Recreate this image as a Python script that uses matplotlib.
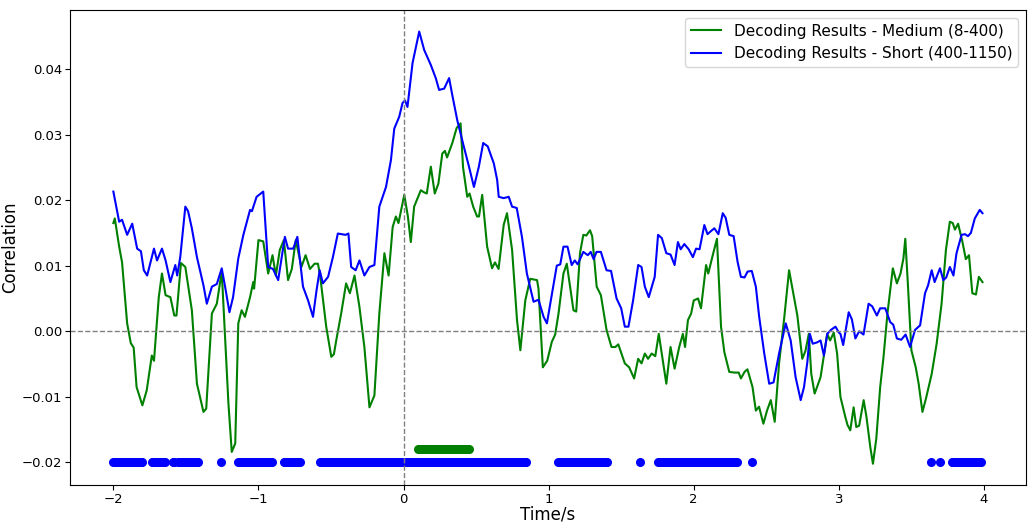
import numpy as np
import matplotlib.pyplot as plt

# decoding correlation over time, medium band (8-400)
t_medium = [-2.00, -1.99, -1.96, -1.94, -1.905, -1.88, -1.86, -1.84, -1.80, -1.77,
            -1.735, -1.72, -1.687, -1.665, -1.64, -1.607, -1.58, -1.565, -1.534, -1.504,
            -1.459, -1.424, -1.379, -1.36, -1.321, -1.287, -1.253, -1.23, -1.207, -1.184,
            -1.16, -1.139, -1.116, -1.093, -1.058, -1.036, -1.03, -1.0, -0.967, -0.933,
            -0.903, -0.88, -0.853, -0.825, -0.796, -0.77, -0.743, -0.704, -0.675, -0.645,
            -0.613, -0.59, -0.575, -0.533, -0.498, -0.48, -0.464, -0.43, -0.396, -0.37,
            -0.338, -0.304, -0.27, -0.235, -0.201, -0.167, -0.132, -0.103, -0.075, -0.053,
            -0.035, 0.005, 0.03, 0.05, 0.073, 0.119, 0.14, 0.16, 0.188, 0.215,
            0.24, 0.267, 0.285, 0.30, 0.336, 0.366, 0.393, 0.41, 0.439, 0.455,
            0.48, 0.507, 0.52, 0.542, 0.576, 0.61, 0.63, 0.655, 0.69, 0.713,
            0.748, 0.782, 0.805, 0.839, 0.873, 0.92, 0.93, 0.96, 0.99, 1.022,
            1.045, 1.068, 1.102, 1.125, 1.15, 1.171, 1.19, 1.216, 1.239, 1.26,
            1.285, 1.30, 1.331, 1.36, 1.399, 1.433, 1.46, 1.48, 1.525, 1.555,
            1.589, 1.617, 1.64, 1.663, 1.685, 1.71, 1.735, 1.759, 1.785, 1.811,
            1.84, 1.868, 1.90, 1.925, 1.94, 1.96, 1.982, 2.0, 2.03, 2.05,
            2.085, 2.10, 2.131, 2.16, 2.188, 2.211, 2.245, 2.28, 2.31, 2.325,
            2.35, 2.37, 2.405, 2.428, 2.45, 2.48, 2.505, 2.531, 2.558, 2.588,
            2.622, 2.657, 2.68, 2.714, 2.748, 2.77, 2.793, 2.81, 2.833, 2.85,
            2.874, 2.92, 2.94, 2.965, 2.988, 3.011, 3.045, 3.06, 3.079, 3.102,
            3.12, 3.14, 3.171, 3.19, 3.217, 3.235, 3.258, 3.285, 3.308, 3.335,
            3.372, 3.40, 3.425, 3.445, 3.458, 3.475, 3.50, 3.53, 3.55, 3.576,
            3.60, 3.64, 3.674, 3.708, 3.738, 3.765, 3.785, 3.80, 3.822, 3.852,
            3.875, 3.897, 3.92, 3.945, 3.965, 3.99]
r_medium = [0.0165, 0.0172, 0.0129, 0.0105, 0.0012, -0.0018, -0.0025, -0.0085, -0.0113, -0.0090,
            -0.0037, -0.0045, 0.0052, 0.0088, 0.0055, 0.0052, 0.0024, 0.0024, 0.0104, 0.0098,
            0.0032, -0.0080, -0.0123, -0.0118, 0.0027, 0.0042, 0.0091, -0.0009, -0.0110, -0.0184,
            -0.0171, 0.0012, 0.0032, 0.0022, 0.0052, 0.0075, 0.0065, 0.0139, 0.0137, 0.0088,
            0.0116, 0.0085, 0.0124, 0.0139, 0.0078, 0.0095, 0.0139, 0.0098, 0.0116, 0.0095,
            0.0103, 0.0103, 0.0085, 0.0007, -0.0039, -0.0035, -0.0014, 0.0027, 0.0073, 0.0058,
            0.0085, 0.0037, -0.0024, -0.0116, -0.0098, 0.0027, 0.0119, 0.0085, 0.0159, 0.0175,
            0.0165, 0.0208, 0.0175, 0.0136, 0.0190, 0.0215, 0.0212, 0.0210, 0.0251, 0.0210,
            0.0225, 0.0271, 0.0275, 0.0265, 0.0287, 0.0310, 0.0317, 0.0250, 0.0205, 0.0210,
            0.0190, 0.0175, 0.0175, 0.0208, 0.0129, 0.0096, 0.0105, 0.0095, 0.0162, 0.0180,
            0.0124, 0.0017, -0.0029, 0.0047, 0.0080, 0.0078, 0.0065, -0.0055, -0.0045, -0.0016,
            -0.0005, 0.0027, 0.0088, 0.0103, 0.0065, 0.0032, 0.0030, 0.0119, 0.0147, 0.0146,
            0.0154, 0.0145, 0.0068, 0.0055, 0.0002, -0.0024, -0.0024, -0.0020, -0.0049, -0.0055,
            -0.0072, -0.0042, -0.0049, -0.0034, -0.0042, -0.0034, -0.0038, -0.0004, -0.0042, -0.0080,
            -0.0024, -0.0057, -0.0024, -0.0004, -0.0024, 0.0017, 0.0027, 0.0047, 0.0050, 0.0035,
            0.0101, 0.0088, 0.0116, 0.0141, 0.0007, -0.0032, -0.0062, -0.0063, -0.0063, -0.0072,
            -0.0062, -0.0058, -0.0085, -0.0121, -0.0115, -0.0141, -0.0121, -0.0105, -0.0138, -0.0049,
            0.0017, 0.0093, 0.0065, 0.0024, -0.0042, -0.0030, -0.0004, -0.0065, -0.0095, -0.0085,
            -0.0070, -0.0004, -0.0014, -0.0002, -0.0034, -0.0100, -0.0131, -0.0143, -0.0151, -0.0116,
            -0.0146, -0.0144, -0.0105, -0.0130, -0.0177, -0.0202, -0.0164, -0.0085, -0.0039, 0.0027,
            0.0096, 0.0073, 0.0088, 0.0111, 0.0141, 0.0075, -0.0029, -0.0055, -0.0080, -0.0123,
            -0.0103, -0.0065, -0.0019, 0.0042, 0.0124, 0.0167, 0.0165, 0.0155, 0.0164, 0.0136,
            0.0110, 0.0116, 0.0058, 0.0056, 0.0083, 0.0075]

# decoding correlation over time, short band (400-1150)
t_short = [-2.00, -1.96, -1.94, -1.905, -1.87, -1.836, -1.81, -1.79, -1.767, -1.72,
           -1.699, -1.665, -1.64, -1.607, -1.573, -1.56, -1.539, -1.504, -1.485, -1.459,
           -1.424, -1.379, -1.356, -1.321, -1.287, -1.253, -1.23, -1.2, -1.175, -1.139,
           -1.104, -1.058, -1.045, -1.013, -0.967, -0.933, -0.90, -0.864, -0.818, -0.796,
           -0.76, -0.732, -0.693, -0.658, -0.624, -0.60, -0.578, -0.556, -0.52, -0.487,
           -0.453, -0.40, -0.38, -0.361, -0.33, -0.304, -0.27, -0.235, -0.201, -0.167,
           -0.121, -0.087, -0.064, -0.03, -0.007, 0.01, 0.027, 0.062, 0.108, 0.142,
           0.188, 0.222, 0.245, 0.28, 0.314, 0.336, 0.37, 0.416, 0.451, 0.485,
           0.519, 0.549, 0.58, 0.622, 0.645, 0.656, 0.69, 0.725, 0.748, 0.78,
           0.816, 0.85, 0.896, 0.93, 0.965, 0.988, 1.015, 1.056, 1.08, 1.102,
           1.13, 1.159, 1.18, 1.20, 1.239, 1.27, 1.29, 1.31, 1.33, 1.36,
           1.399, 1.43, 1.468, 1.50, 1.525, 1.55, 1.582, 1.617, 1.64, 1.663,
           1.69, 1.731, 1.754, 1.78, 1.811, 1.84, 1.868, 1.891, 1.91, 1.935,
           1.965, 1.994, 2.016, 2.04, 2.073, 2.095, 2.12, 2.142, 2.17, 2.2,
           2.22, 2.245, 2.275, 2.302, 2.325, 2.35, 2.371, 2.40, 2.428, 2.451,
           2.486, 2.52, 2.55, 2.588, 2.634, 2.668, 2.702, 2.737, 2.76, 2.783,
           2.80, 2.82, 2.85, 2.874, 2.897, 2.92, 2.945, 2.977, 3.00, 3.011,
           3.03, 3.068, 3.09, 3.114, 3.14, 3.17, 3.205, 3.23, 3.262, 3.285,
           3.32, 3.354, 3.375, 3.40, 3.43, 3.46, 3.491, 3.525, 3.56, 3.594,
           3.615, 3.64, 3.66, 3.697, 3.72, 3.74, 3.765, 3.79, 3.811, 3.846,
           3.87, 3.89, 3.91, 3.937, 3.971, 3.99]
r_short = [0.0213, 0.0167, 0.0170, 0.0147, 0.0164, 0.0126, 0.0122, 0.0093, 0.0085, 0.0126,
           0.0108, 0.0126, 0.0108, 0.0075, 0.0101, 0.0085, 0.0113, 0.0190, 0.0183, 0.0157,
           0.0113, 0.0070, 0.0042, 0.0068, 0.0072, 0.0096, 0.0068, 0.0029, 0.0052, 0.0111,
           0.0147, 0.0185, 0.0183, 0.0205, 0.0213, 0.0098, 0.0095, 0.0078, 0.0144, 0.0126,
           0.0126, 0.0144, 0.0068, 0.0047, 0.0022, 0.0062, 0.0093, 0.0073, 0.0083, 0.0113,
           0.0149, 0.0147, 0.0149, 0.0098, 0.0093, 0.0108, 0.0085, 0.0098, 0.0101, 0.0190,
           0.0220, 0.0261, 0.0309, 0.0327, 0.0348, 0.0352, 0.0342, 0.0409, 0.0457, 0.0429,
           0.0406, 0.0386, 0.0368, 0.0370, 0.0386, 0.0360, 0.0322, 0.0281, 0.0251, 0.0220,
           0.0251, 0.0287, 0.0282, 0.0256, 0.0231, 0.0205, 0.0203, 0.0205, 0.0190, 0.0188,
           0.0144, 0.0088, 0.0045, 0.0048, 0.0022, 0.0012, 0.0047, 0.0100, 0.0102, 0.0129,
           0.0129, 0.0101, 0.0108, 0.0102, 0.0121, 0.0116, 0.0121, 0.0110, 0.0121, 0.0121,
           0.0093, 0.0092, 0.0050, 0.0035, 0.0007, 0.0007, 0.0047, 0.0101, 0.0098, 0.0068,
           0.0052, 0.0083, 0.0147, 0.0142, 0.0119, 0.0117, 0.0101, 0.0136, 0.0125, 0.0133,
           0.0125, 0.0113, 0.0126, 0.0125, 0.0162, 0.0148, 0.0153, 0.0157, 0.0148, 0.0180,
           0.0173, 0.0147, 0.0145, 0.0106, 0.0083, 0.0082, 0.0091, 0.0092, 0.0068, 0.0022,
           -0.0034, -0.0080, -0.0078, -0.0034, 0.0012, -0.0014, -0.0070, -0.0105, -0.0085, -0.0047,
           -0.0004, -0.0019, -0.0017, -0.0014, -0.0037, -0.0004, 0.0002, 0.0007, -0.0002, -0.0004,
           -0.0021, 0.0029, 0.0018, -0.0011, 0.0000, -0.0005, 0.0042, 0.0038, 0.0024, 0.0035,
           0.0035, 0.0014, 0.0010, -0.0011, -0.0013, -0.0005, -0.0024, 0.0002, 0.0009, 0.0058,
           0.0070, 0.0093, 0.0075, 0.0096, 0.0078, 0.0082, 0.0098, 0.0085, 0.0119, 0.0147,
           0.0148, 0.0145, 0.0150, 0.0172, 0.0185, 0.0180]

# significant time windows (start, end) for each band
sig_medium = [(0.10, 0.45)]
sig_short = [(-2.0, -1.80), (-1.735, -1.645), (-1.59, -1.585), (-1.555, -1.41),
             (-1.26, -1.26), (-1.14, -0.91), (-0.825, -0.71), (-0.575, 0.845),
             (1.065, 1.405), (1.63, 1.63), (1.755, 2.295), (2.40, 2.40),
             (3.635, 3.635), (3.70, 3.70), (3.78, 3.98)]
sig_level_medium = -0.018
sig_level_short = -0.02
step = 0.01


def expand(windows):
    pts = []
    for a, b in windows:
        pts.extend(np.arange(a, b + step / 2, step))
    return np.array(pts)


fig, ax = plt.subplots(figsize=(10.28, 5.23), dpi=100)
fig.subplots_adjust(left=0.068, right=0.998, top=0.981, bottom=0.072)

ax.plot(t_medium, r_medium, color='green', lw=1.5, label='Decoding Results - Medium (8-400)')
ax.plot(t_short, r_short, color='blue', lw=1.5, label='Decoding Results - Short (400-1150)')

pm = expand(sig_medium)
ps = expand(sig_short)
ax.plot(pm, np.full(len(pm), sig_level_medium), 'o', color='green', ms=5.5)
ax.plot(ps, np.full(len(ps), sig_level_short), 'o', color='blue', ms=5.5)

ax.axhline(0, color='grey', ls='--', lw=1)
ax.axvline(0, color='grey', ls='--', lw=1)

ax.set_xlabel('Time/s', fontsize=12, labelpad=0)
ax.set_ylabel('Correlation', fontsize=12, labelpad=2)
ax.tick_params(labelsize=9.5, pad=2)
ax.legend(loc='upper right', fontsize=11)

plt.savefig('out.png', dpi=100)
